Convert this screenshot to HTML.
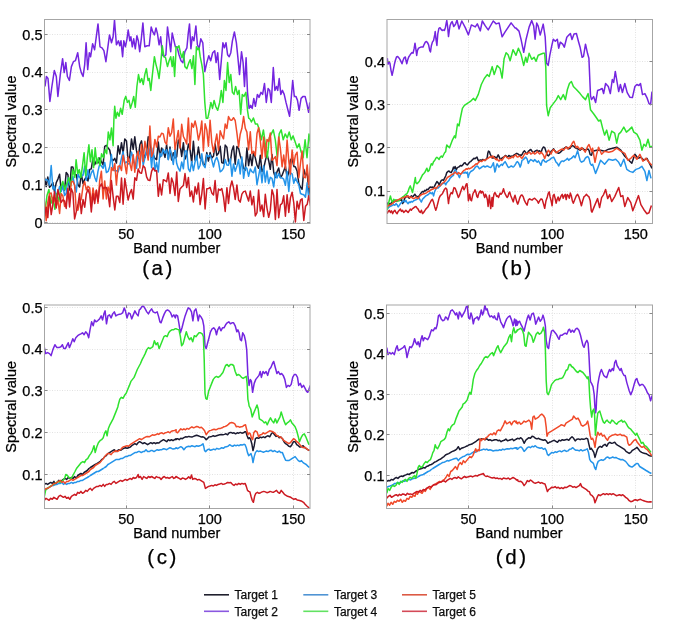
<!DOCTYPE html><html><head><meta charset="utf-8"><style>html,body{margin:0;padding:0;background:#fff;}svg{display:block;filter:blur(0.3px);}text{font-family:"Liberation Sans",sans-serif;stroke:#000;stroke-width:0.25px;}</style></head><body>
<svg width="685" height="633" viewBox="0 0 685 633">
<rect x="0" y="0" width="685" height="633" fill="#fff"/>
<defs><clipPath id="clipa"><rect x="44.5" y="19.5" width="265.5" height="204.0"/></clipPath></defs>
<path d="M126.5 19.5V223.5M209.5 19.5V223.5M293.5 19.5V223.5M44.5 222.5H310.0M44.5 185.5H310.0M44.5 147.5H310.0M44.5 109.5H310.0M44.5 72.5H310.0M44.5 34.5H310.0" stroke="#e2e2e2" stroke-width="1" stroke-dasharray="1 1.5" fill="none"/>
<g clip-path="url(#clipa)" fill="none" stroke-width="1.5" stroke-linejoin="round">
<path d="M44.5,177.6 46.2,186.6 47.8,177.0 49.5,187.2 51.2,185.4 52.9,182.6 54.5,191.5 56.2,182.8 57.9,179.1 59.6,174.3 61.2,190.8 62.9,185.3 64.6,190.1 66.2,172.4 67.9,174.8 69.6,190.1 71.3,167.1 72.9,167.1 74.6,174.3 76.3,174.8 78.0,184.7 79.6,187.0 81.3,173.5 83.0,183.7 84.7,179.4 86.3,177.0 88.0,181.0 89.7,169.4 91.3,168.9 93.0,158.0 94.7,164.7 96.4,160.7 98.0,162.9 99.7,157.9 101.4,161.7 103.1,164.9 104.7,146.4 106.4,145.3 108.1,147.9 109.7,150.0 111.4,158.9 113.1,160.4 114.8,158.4 116.4,163.1 118.1,145.7 119.8,154.0 121.5,142.7 123.1,153.2 124.8,138.9 126.5,141.0 128.1,161.2 129.8,156.0 131.5,138.9 133.2,149.3 134.8,136.8 136.5,150.7 138.2,158.3 139.9,144.7 141.5,140.9 143.2,153.0 144.9,157.6 146.6,151.9 148.2,136.8 149.9,142.0 151.6,157.6 153.2,154.7 154.9,158.4 156.6,159.6 158.3,142.0 159.9,157.1 161.6,148.1 163.3,151.0 165.0,157.4 166.6,144.5 168.3,159.2 170.0,147.0 171.6,159.9 173.3,152.8 175.0,158.0 176.7,156.8 178.3,140.1 180.0,144.3 181.7,156.5 183.4,142.7 185.0,159.1 186.7,154.9 188.4,144.0 190.0,149.3 191.7,162.6 193.4,141.3 195.1,160.2 196.7,159.3 198.4,147.1 200.1,158.0 201.8,159.0 203.4,164.5 205.1,164.3 206.8,152.6 208.4,161.0 210.1,152.6 211.8,158.1 213.5,156.1 215.1,143.9 216.8,155.4 218.5,153.2 220.2,146.2 221.8,162.6 223.5,163.3 225.2,145.1 226.9,147.3 228.5,161.4 230.2,163.2 231.9,150.4 233.5,145.9 235.2,164.2 236.9,146.4 238.6,148.4 240.2,155.5 241.9,160.3 243.6,168.3 245.3,170.1 246.9,148.0 248.6,165.6 250.3,154.6 251.9,165.6 253.6,152.1 255.3,157.8 257.0,165.2 258.6,168.3 260.3,155.3 262.0,171.6 263.7,168.3 265.3,160.9 267.0,154.4 268.7,160.7 270.3,169.3 272.0,154.5 273.7,172.3 275.4,177.4 277.0,171.9 278.7,168.0 280.4,177.6 282.1,175.2 283.7,171.0 285.4,166.4 287.1,177.4 288.8,172.3 290.4,159.9 292.1,158.1 293.8,166.3 295.4,167.0 297.1,171.0 298.8,183.3 300.5,187.3 302.1,189.2 303.8,169.2 305.5,175.8 307.2,171.0 308.8,195.2 310.5,181.8" stroke="#1a1a30"/>
<path d="M45.0,86.5 46.4,76.5 48.0,78.5 49.9,101.4 51.9,86.5 54.3,70.6 56.3,76.5 57.9,96.4 60.3,74.6 62.6,58.7 64.2,72.6 65.8,62.6 67.4,76.5 69.4,80.5 71.4,66.6 73.4,61.7 75.4,60.7 77.7,52.7 79.7,66.6 81.3,72.6 83.1,76.5 84.7,64.6 86.1,42.8 87.7,69.6 89.3,52.7 90.6,56.7 92.6,43.8 94.6,49.7 96.0,38.8 98.0,23.9 100.0,46.8 102.0,47.8 103.9,50.7 105.9,61.7 107.9,46.8 109.5,34.9 111.5,42.8 113.1,36.8 114.5,20.0 116.4,44.8 118.4,40.8 119.8,45.8 121.0,40.8 122.6,56.7 123.8,40.8 125.4,46.8 127.0,38.8 128.2,29.9 129.8,40.8 130.9,36.8 132.3,46.8 133.7,38.8 135.3,48.8 136.9,35.8 138.3,40.8 139.7,51.7 141.3,38.8 142.9,22.9 144.8,46.8 147.2,45.8 149.2,45.8 151.2,26.9 152.8,31.9 154.4,34.9 156.0,27.9 157.5,33.9 159.1,44.8 160.7,36.8 162.3,54.7 164.1,56.7 165.9,54.7 167.5,26.9 169.1,38.8 170.7,51.7 172.2,32.9 174.0,40.8 175.4,46.8 177.0,46.8 179.0,54.7 181.0,60.7 182.9,62.6 184.9,51.7 186.9,47.8 188.3,32.9 189.5,23.9 190.9,48.8 192.3,36.8 193.9,40.8 195.9,25.9 197.4,44.8 199.0,48.8 200.8,38.8 202.8,42.8 204.8,71.6 206.8,62.6 208.8,55.7 210.7,60.7 212.7,52.7 214.7,50.7 216.1,62.6 217.7,52.7 219.7,79.5 221.3,60.7 222.9,42.8 224.4,47.8 226.0,42.8 227.6,54.7 229.2,56.7 230.8,52.7 232.4,40.8 234.4,31.9 236.4,42.8 237.9,57.7 239.5,74.6 241.5,51.7 243.1,62.6 244.5,86.5 246.1,57.7 247.5,92.4 249.1,108.3 250.7,105.3 252.2,108.3 253.8,98.4 255.4,106.3 257.4,94.4 259.0,97.4 261.0,92.4 262.6,94.4 264.5,83.5 266.3,102.4 268.1,88.5 269.7,90.4 271.3,102.4 273.3,67.6 274.9,90.4 276.5,86.5 277.7,90.4 279.2,78.5 280.8,94.4 282.4,90.4 284.2,94.4 286.0,102.4 288.0,110.3 289.6,116.3 291.2,98.4 292.7,80.5 294.3,96.4 295.9,96.4 297.5,100.4 299.1,110.3 301.1,98.4 303.1,96.4 305.1,96.4 307.0,104.3 308.6,112.3 309.8,102.4" stroke="#7425e0"/>
<path d="M44.5,180.5 46.2,179.3 47.8,180.1 49.5,185.1 51.2,165.5 52.9,188.9 54.5,186.3 56.2,195.3 57.9,193.2 59.6,186.5 61.2,191.5 62.9,185.5 64.6,195.5 66.2,193.6 67.9,178.2 69.6,184.8 71.3,182.2 72.9,176.5 74.6,185.1 76.3,192.0 78.0,173.8 79.6,177.7 81.3,175.3 83.0,175.4 84.7,166.2 86.3,180.2 88.0,169.8 89.7,178.5 91.3,172.8 93.0,170.0 94.7,177.2 96.4,181.6 98.0,171.1 99.7,164.1 101.4,166.0 103.1,168.3 104.7,162.5 106.4,172.5 108.1,171.4 109.7,166.8 111.4,154.5 113.1,169.1 114.8,170.7 116.4,170.7 118.1,171.8 119.8,165.7 121.5,158.1 123.1,151.8 124.8,163.2 126.5,161.9 128.1,163.9 129.8,163.5 131.5,152.1 133.2,157.6 134.8,164.6 136.5,168.2 138.2,151.9 139.9,153.8 141.5,150.8 143.2,165.1 144.9,157.9 146.6,149.0 148.2,157.1 149.9,148.8 151.6,167.7 153.2,148.4 154.9,170.8 156.6,162.3 158.3,171.9 159.9,153.2 161.6,156.1 163.3,149.2 165.0,153.3 166.6,149.8 168.3,159.7 170.0,148.9 171.6,154.6 173.3,164.4 175.0,149.2 176.7,163.6 178.3,168.2 180.0,171.2 181.7,162.0 183.4,168.7 185.0,151.1 186.7,150.9 188.4,168.8 190.0,171.7 191.7,161.6 193.4,170.5 195.1,161.7 196.7,155.4 198.4,169.0 200.1,165.2 201.8,153.8 203.4,165.0 205.1,167.6 206.8,154.6 208.4,156.7 210.1,154.9 211.8,160.1 213.5,166.9 215.1,160.3 216.8,157.2 218.5,162.0 220.2,171.8 221.8,170.7 223.5,168.1 225.2,159.6 226.9,164.9 228.5,165.3 230.2,158.8 231.9,176.3 233.5,163.9 235.2,171.3 236.9,166.0 238.6,159.5 240.2,173.9 241.9,157.1 243.6,178.3 245.3,167.2 246.9,168.3 248.6,176.3 250.3,169.0 251.9,171.7 253.6,172.8 255.3,166.9 257.0,184.7 258.6,176.2 260.3,166.9 262.0,182.8 263.7,165.7 265.3,182.1 267.0,171.0 268.7,183.6 270.3,177.3 272.0,178.3 273.7,186.9 275.4,172.4 277.0,178.1 278.7,173.6 280.4,177.8 282.1,177.9 283.7,179.2 285.4,185.3 287.1,171.4 288.8,191.5 290.4,173.0 292.1,173.9 293.8,183.3 295.4,177.9 297.1,181.7 298.8,184.7 300.5,193.5 302.1,194.2 303.8,194.8 305.5,197.2 307.2,182.7 308.8,198.9 310.5,199.1" stroke="#2494ea"/>
<path d="M45.0,211.3 47.0,195.4 48.9,189.5 50.9,203.4 52.9,197.4 54.9,209.3 56.9,193.4 58.9,201.4 60.9,187.5 62.8,181.5 64.8,189.5 66.8,183.5 68.8,177.6 70.8,185.5 72.8,169.6 74.8,177.6 76.1,159.7 77.7,173.6 79.3,169.6 80.9,177.6 82.5,165.6 84.1,152.7 85.7,175.6 87.3,157.7 88.9,144.8 90.4,161.7 92.0,149.8 93.6,167.6 95.2,147.8 96.8,163.7 98.4,157.7 100.0,165.6 101.6,153.7 103.5,157.7 105.1,149.8 106.7,153.7 108.3,131.9 109.9,139.8 111.5,127.9 113.1,145.8 113.9,119.2 114.7,106.3 115.9,118.2 117.4,112.3 119.0,116.3 120.6,108.3 122.2,114.3 124.2,100.4 125.8,96.4 127.4,102.4 129.0,100.4 130.5,108.3 132.3,102.4 133.7,96.4 135.3,107.3 136.9,86.5 138.5,74.6 140.1,82.5 141.7,78.5 143.3,84.5 144.8,74.6 146.4,68.6 148.0,80.5 149.2,78.5 150.8,90.4 152.4,74.6 154.4,56.7 156.0,64.6 157.6,70.6 159.1,78.5 160.7,63.6 162.3,45.8 163.9,56.7 165.5,57.7 167.5,66.6 169.1,60.7 170.7,56.7 172.2,66.6 173.4,56.7 174.6,76.5 175.8,54.7 176.0,46.8 177.6,47.8 179.0,45.8 180.4,52.7 182.0,57.7 183.5,51.7 184.9,66.6 186.9,68.6 188.9,62.6 190.3,59.7 191.9,68.6 193.5,55.7 194.9,84.5 196.4,46.8 197.8,49.7 199.0,47.8 200.2,56.7 201.8,64.6 203.4,74.6 204.8,102.4 206.2,118.2 207.8,118.2 209.4,110.3 210.9,102.4 212.5,108.3 214.1,100.4 215.7,106.3 217.7,110.3 219.7,102.4 221.3,90.4 222.9,102.4 224.4,80.5 226.0,90.4 227.6,62.6 229.2,82.5 230.8,74.6 232.4,92.4 234.0,94.4 235.6,86.5 237.5,94.4 239.1,90.4 240.7,114.3 242.3,94.4 243.9,96.4 245.9,92.4 247.5,110.3 248.7,118.2 249.9,119.0 251.4,122.0 253.4,118.0 255.4,124.0 257.4,124.0 259.4,129.9 261.4,139.8 263.4,129.9 265.3,143.8 267.3,157.7 269.3,137.9 271.3,133.9 273.3,129.9 275.3,139.8 277.3,157.7 279.2,133.9 281.2,129.9 283.2,139.8 285.2,133.9 287.2,137.9 289.2,131.9 291.2,139.8 293.1,135.9 295.1,141.8 297.1,147.8 299.1,143.8 301.1,151.8 303.1,157.7 305.1,139.8 307.0,157.7 309.0,133.9 311.0,145.8" stroke="#2fe22f"/>
<path d="M44.5,201.6 46.2,220.7 47.8,202.1 49.5,193.6 51.2,193.0 52.9,203.0 54.5,198.3 56.2,206.3 57.9,200.1 59.6,213.5 61.2,193.6 62.9,196.0 64.6,206.5 66.2,202.8 67.9,190.3 69.6,199.8 71.3,182.0 72.9,181.2 74.6,185.3 76.3,210.3 78.0,210.1 79.6,202.1 81.3,198.9 83.0,186.5 84.7,181.6 86.3,189.8 88.0,186.4 89.7,187.9 91.3,205.4 93.0,188.0 94.7,197.9 96.4,190.2 98.0,203.3 99.7,180.6 101.4,171.2 103.1,199.0 104.7,180.9 106.4,199.0 108.1,187.1 109.7,192.9 111.4,167.6 113.1,170.6 114.8,163.4 116.4,184.9 118.1,166.4 119.8,165.6 121.5,170.5 123.1,155.2 124.8,163.6 126.5,173.7 128.1,157.1 129.8,163.2 131.5,170.4 133.2,154.8 134.8,172.2 136.5,156.7 138.2,151.2 139.9,168.1 141.5,144.3 143.2,161.4 144.9,141.3 146.6,150.6 148.2,160.0 149.9,126.0 151.6,156.6 153.2,152.3 154.9,139.4 156.6,147.1 158.3,136.3 159.9,137.0 161.6,133.2 163.3,133.9 165.0,142.0 166.6,144.4 168.3,127.7 170.0,136.3 171.6,132.8 173.3,119.0 175.0,149.4 176.7,139.9 178.3,130.4 180.0,147.9 181.7,124.3 183.4,136.5 185.0,139.6 186.7,143.9 188.4,117.9 190.0,149.3 191.7,123.2 193.4,127.3 195.1,121.0 196.7,127.8 198.4,140.0 200.1,133.3 201.8,120.9 203.4,151.0 205.1,123.7 206.8,129.9 208.4,146.2 210.1,120.3 211.8,142.6 213.5,152.2 215.1,142.9 216.8,134.1 218.5,150.3 220.2,130.8 221.8,135.4 223.5,138.8 225.2,124.1 226.9,128.4 228.5,116.6 230.2,119.9 231.9,120.2 233.5,117.7 235.2,120.5 236.9,132.8 238.6,147.0 240.2,134.2 241.9,128.3 243.6,116.5 245.3,128.3 246.9,132.1 248.6,149.8 250.3,131.8 251.9,153.7 253.6,151.3 255.3,155.8 257.0,133.5 258.6,127.6 260.3,140.5 262.0,158.4 263.7,137.1 265.3,157.0 267.0,139.6 268.7,141.5 270.3,133.1 272.0,160.3 273.7,158.8 275.4,156.6 277.0,165.6 278.7,136.9 280.4,148.6 282.1,166.8 283.7,155.0 285.4,168.6 287.1,140.0 288.8,161.3 290.4,174.1 292.1,149.9 293.8,164.5 295.4,155.2 297.1,152.2 298.8,177.7 300.5,163.2 302.1,151.0 303.8,177.0 305.5,177.8 307.2,164.9 308.8,187.3 310.5,163.0" stroke="#f04a2a"/>
<path d="M44.5,215.8 46.2,207.2 47.8,217.6 49.5,196.3 51.2,214.6 52.9,204.0 54.5,191.7 56.2,208.0 57.9,189.6 59.6,196.6 61.2,202.4 62.9,199.9 64.6,201.2 66.2,208.4 67.9,188.2 69.6,207.0 71.3,188.7 72.9,192.8 74.6,218.9 76.3,211.6 78.0,204.5 79.6,193.6 81.3,213.6 83.0,199.5 84.7,207.2 86.3,193.8 88.0,189.2 89.7,194.2 91.3,212.0 93.0,193.8 94.7,203.5 96.4,190.3 98.0,201.3 99.7,187.0 101.4,183.9 103.1,188.4 104.7,187.8 106.4,187.5 108.1,194.1 109.7,206.7 111.4,180.5 113.1,196.4 114.8,210.0 116.4,196.2 118.1,196.3 119.8,202.5 121.5,177.9 123.1,204.2 124.8,178.6 126.5,189.2 128.1,200.0 129.8,193.4 131.5,189.5 133.2,199.1 134.8,177.7 136.5,180.3 138.2,168.9 139.9,172.8 141.5,173.3 143.2,165.6 144.9,167.7 146.6,176.8 148.2,180.1 149.9,180.6 151.6,171.4 153.2,167.9 154.9,170.9 156.6,170.6 158.3,196.3 159.9,183.9 161.6,195.0 163.3,179.8 165.0,180.5 166.6,181.7 168.3,172.9 170.0,193.5 171.6,178.1 173.3,183.1 175.0,195.5 176.7,171.9 178.3,201.5 180.0,188.9 181.7,187.0 183.4,185.5 185.0,173.6 186.7,187.6 188.4,177.4 190.0,196.5 191.7,191.0 193.4,202.0 195.1,186.7 196.7,194.0 198.4,182.9 200.1,204.6 201.8,193.8 203.4,178.5 205.1,208.9 206.8,188.7 208.4,188.6 210.1,187.4 211.8,192.9 213.5,194.9 215.1,180.6 216.8,202.2 218.5,189.0 220.2,190.3 221.8,188.6 223.5,196.8 225.2,211.5 226.9,187.7 228.5,203.4 230.2,187.5 231.9,181.0 233.5,187.7 235.2,199.5 236.9,185.1 238.6,200.0 240.2,202.1 241.9,194.2 243.6,191.6 245.3,191.1 246.9,195.9 248.6,201.0 250.3,191.0 251.9,204.8 253.6,196.5 255.3,216.0 257.0,212.6 258.6,189.9 260.3,211.1 262.0,205.0 263.7,216.6 265.3,194.3 267.0,208.3 268.7,217.3 270.3,210.4 272.0,189.8 273.7,195.5 275.4,219.5 277.0,189.6 278.7,217.7 280.4,204.8 282.1,203.4 283.7,195.8 285.4,216.3 287.1,194.8 288.8,212.4 290.4,197.9 292.1,192.2 293.8,203.0 295.4,222.0 297.1,201.3 298.8,209.0 300.5,200.1 302.1,198.7 303.8,220.5 305.5,206.3 307.2,204.3 308.8,195.7 310.5,206.0" stroke="#cc1a22"/>
</g>
<rect x="44.5" y="19.5" width="265.5" height="204.0" fill="none" stroke="#a6a6a6" stroke-width="1"/>
<path d="M126.5 223.5v-3M126.5 19.5v3M209.5 223.5v-3M209.5 19.5v3M293.5 223.5v-3M293.5 19.5v3M44.5 222.5h3M310.0 222.5h-3M44.5 185.5h3M310.0 185.5h-3M44.5 147.5h3M310.0 147.5h-3M44.5 109.5h3M310.0 109.5h-3M44.5 72.5h3M310.0 72.5h-3M44.5 34.5h3M310.0 34.5h-3" stroke="#8a8a8a" stroke-width="1" fill="none"/>
<text x="126.3" y="238.8" font-size="14.5" text-anchor="middle" fill="#000">50</text>
<text x="209.8" y="238.8" font-size="14.5" text-anchor="middle" fill="#000">100</text>
<text x="293.3" y="238.8" font-size="14.5" text-anchor="middle" fill="#000">150</text>
<text x="42.5" y="228.0" font-size="14.5" text-anchor="end" fill="#000">0</text>
<text x="42.5" y="190.3" font-size="14.5" text-anchor="end" fill="#000">0.1</text>
<text x="42.5" y="152.7" font-size="14.5" text-anchor="end" fill="#000">0.2</text>
<text x="42.5" y="115.0" font-size="14.5" text-anchor="end" fill="#000">0.3</text>
<text x="42.5" y="77.3" font-size="14.5" text-anchor="end" fill="#000">0.4</text>
<text x="42.5" y="39.7" font-size="14.5" text-anchor="end" fill="#000">0.5</text>
<text x="176.8" y="252.9" font-size="14.5" text-anchor="middle" fill="#000">Band number</text>
<text transform="translate(16.0 121.5) rotate(-90)" font-size="14.5" text-anchor="middle" fill="#000">Spectral value</text>
<text x="158.6" y="275.3" font-size="20.5" text-anchor="middle" fill="#000" letter-spacing="2.6">(a)</text>
<defs><clipPath id="clipb"><rect x="387.0" y="19.5" width="265.5" height="204.0"/></clipPath></defs>
<path d="M468.5 19.5V223.5M552.5 19.5V223.5M635.5 19.5V223.5M387.0 191.5H652.5M387.0 147.5H652.5M387.0 104.5H652.5M387.0 61.5H652.5" stroke="#e2e2e2" stroke-width="1" stroke-dasharray="1 1.5" fill="none"/>
<g clip-path="url(#clipb)" fill="none" stroke-width="1.5" stroke-linejoin="round">
<path d="M387.1,202.5 388.2,205.3 389.3,203.6 390.4,204.7 391.5,202.5 392.6,201.4 393.7,202.0 394.8,200.8 396.0,201.4 397.1,200.3 398.2,200.8 399.3,199.7 400.4,200.3 401.5,199.2 402.6,203.6 403.7,201.4 404.8,198.1 405.9,197.0 407.0,195.9 408.1,197.0 409.2,198.1 410.3,197.0 411.4,195.9 412.5,197.0 413.6,195.9 414.8,194.2 415.9,195.9 417.0,196.4 418.1,197.0 419.2,195.9 420.3,194.2 421.4,192.6 422.5,191.4 423.6,192.0 424.7,190.3 425.8,190.9 426.9,189.2 428.0,189.8 429.1,188.1 430.2,187.0 431.3,187.6 432.4,187.0 433.6,188.1 434.7,185.9 435.8,183.7 436.9,181.5 438.0,182.6 439.1,184.8 440.2,182.6 441.3,180.4 442.4,179.8 443.5,180.4 444.6,178.2 445.7,176.0 446.8,172.6 447.9,171.5 449.0,171.0 450.1,172.1 451.2,172.6 452.4,170.4 453.5,167.1 454.0,168.8 455.1,166.5 456.2,169.9 457.3,167.6 458.4,167.1 459.5,166.5 460.6,165.4 461.7,166.0 462.8,164.9 464.0,163.2 465.1,162.7 466.2,164.3 467.3,164.9 468.4,163.8 469.5,162.1 470.6,161.6 471.7,160.5 472.8,159.4 473.9,158.2 475.0,158.8 476.1,157.7 477.0,157.1 477.8,159.4 478.5,161.0 479.4,160.5 480.5,159.9 481.6,160.5 482.8,159.4 483.9,159.9 485.0,160.5 486.1,159.4 487.2,157.7 487.8,153.3 488.5,151.1 489.4,151.6 490.3,154.4 491.2,156.0 492.0,157.7 492.9,158.2 493.8,157.1 494.7,156.6 495.6,157.7 496.5,158.2 497.3,156.6 498.2,154.9 499.1,156.6 500.0,158.8 500.9,159.4 501.8,158.2 502.7,157.7 503.5,157.1 504.4,156.6 505.3,155.5 506.2,156.0 507.1,157.1 508.0,156.6 508.8,155.5 509.7,156.0 510.6,156.6 511.5,156.0 512.4,156.6 513.3,155.5 514.2,154.9 515.0,154.4 515.9,153.8 516.8,153.3 517.7,153.8 518.6,154.4 519.5,155.5 520.4,154.9 521.2,155.5 522.0,154.6 523.3,152.1 524.5,150.8 525.8,152.7 527.1,154.0 528.3,151.4 529.6,150.2 530.8,149.5 532.1,151.4 533.4,152.7 534.6,151.4 535.9,150.8 537.2,150.2 538.4,151.4 539.7,150.8 541.0,152.7 542.2,148.9 543.5,147.0 544.7,147.6 546.0,151.4 547.3,155.2 548.5,155.9 549.8,154.0 551.1,151.4 552.3,150.2 553.6,148.9 554.9,150.8 556.1,152.1 557.4,152.7 558.7,153.3 559.9,152.7 561.2,151.4 562.4,150.2 563.7,148.9 565.0,147.6 566.2,147.0 567.5,147.6 568.8,148.9 570.0,148.3 571.3,146.4 572.6,145.7 573.8,146.4 575.1,147.6 576.3,148.3 577.6,148.9 578.9,149.5 580.1,150.2 581.4,148.9 582.7,148.3 583.9,149.5 585.2,150.2 586.5,149.5 587.7,148.9 589.0,150.2 590.2,154.6 591.5,155.2 592.6,151.2 596.6,150.2 600.6,150.2 604.6,151.2 608.7,149.2 612.7,148.2 616.7,147.2 620.8,150.2 624.8,156.3 628.8,160.3 631.8,163.3 634.9,154.3 637.9,158.3 640.9,157.3 643.9,160.3 646.9,158.3 650.0,164.3 652.0,168.4" stroke="#1a1a30"/>
<path d="M387.3,58.1 388.0,64.2 388.8,62.0 389.9,63.1 391.0,70.3 392.1,75.3 393.2,70.3 394.3,64.8 395.4,60.3 396.5,57.0 397.6,56.5 398.7,57.6 399.8,59.2 400.9,61.4 402.0,63.7 403.1,60.3 404.2,57.6 405.4,57.0 405.9,60.3 406.8,63.7 407.6,60.3 408.7,57.0 409.8,55.4 410.9,53.7 412.0,52.6 413.1,53.2 414.2,48.2 415.0,43.2 415.9,49.3 416.7,55.4 417.5,50.4 418.6,48.2 419.7,47.6 420.8,47.1 421.9,47.1 423.0,47.1 424.2,44.3 425.3,42.1 426.4,41.5 427.5,42.6 428.6,44.9 429.7,50.4 430.5,52.0 431.3,46.0 432.4,42.1 433.6,40.4 434.7,34.9 435.2,31.6 436.0,39.3 436.9,45.4 437.8,33.8 438.9,28.3 440.0,27.7 441.1,29.4 442.2,30.5 443.3,29.9 444.4,30.5 445.5,27.2 446.3,22.7 446.8,20.5 447.7,27.2 448.5,36.6 449.3,30.5 450.1,25.5 451.2,22.7 452.1,21.6 452.9,23.8 453.7,26.6 454.6,25.5 455.7,23.8 457.0,20.0 459.0,28.9 461.8,21.0 465.4,27.9 468.4,34.9 471.4,24.9 475.3,26.9 477.3,23.9 480.3,30.9 482.3,21.0 485.3,25.9 488.2,29.9 493.2,21.0 496.2,23.9 499.1,22.9 502.1,36.8 505.1,31.9 511.1,22.9 515.0,27.9 516.0,28.1 519.0,31.1 521.0,39.2 523.7,52.3 526.1,39.2 529.1,27.1 531.7,20.6 533.7,26.1 535.1,39.2 536.7,23.1 538.2,26.1 540.2,35.1 543.2,24.1 545.2,37.2 546.6,63.3 548.2,65.4 549.8,55.3 551.9,45.2 553.3,39.2 555.3,41.2 557.3,39.2 558.7,48.2 560.3,42.2 562.7,44.2 564.3,47.2 566.8,37.2 568.8,35.1 570.4,33.5 572.0,39.6 574.0,34.1 576.4,33.5 578.4,41.2 580.1,47.2 582.1,57.3 583.5,56.3 585.5,44.2 587.5,53.3 588.9,58.3 590.5,95.6 591.5,99.6 593.6,96.6 595.6,102.6 597.6,90.5 600.2,89.5 602.2,88.5 603.6,93.6 605.6,83.5 608.3,86.5 610.3,93.6 612.3,79.5 613.7,82.5 615.3,71.4 617.3,83.5 618.7,91.6 620.4,84.5 622.4,92.6 624.8,83.5 627.2,92.6 629.8,97.2 632.4,97.6 634.9,86.5 636.9,84.5 638.9,85.5 640.5,83.5 642.5,94.6 644.9,93.6 646.9,97.6 649.0,103.6 650.6,104.6 652.0,91.6" stroke="#7425e0"/>
<path d="M387.1,209.1 388.2,208.0 389.3,206.9 390.4,206.4 391.5,205.8 392.6,205.3 393.7,204.7 394.8,205.3 396.0,203.6 397.1,204.7 398.2,206.9 399.3,205.3 400.4,203.6 401.5,202.5 402.6,201.4 403.7,200.8 404.8,202.0 405.9,200.3 407.0,202.5 408.1,203.6 409.2,202.0 410.3,202.5 411.4,201.4 412.5,202.0 413.6,200.8 414.8,200.3 415.9,199.7 417.0,199.2 418.1,198.6 419.2,198.1 420.3,200.3 421.4,202.0 422.5,199.2 423.6,198.1 424.7,197.0 425.8,195.9 426.9,195.3 428.0,194.8 429.1,193.7 430.2,192.6 431.3,193.7 432.4,192.6 433.6,195.9 434.7,191.4 435.8,189.2 436.9,187.6 438.0,188.1 439.1,187.0 440.2,185.9 441.3,184.8 442.4,183.7 443.5,183.2 444.6,182.6 445.7,184.8 446.8,182.6 447.9,181.5 449.0,180.4 450.1,178.2 451.2,177.1 452.4,176.0 453.5,175.4 454.0,172.1 455.1,169.9 456.2,171.0 457.3,173.2 458.4,175.4 459.5,177.6 460.6,174.3 461.7,173.2 462.8,172.6 464.0,173.2 465.1,172.1 466.2,173.2 467.3,172.1 468.2,177.6 469.0,174.3 469.9,172.6 470.8,171.5 471.7,171.0 472.8,170.4 473.9,169.3 475.0,167.6 476.1,166.5 477.2,166.0 478.3,167.1 479.4,168.8 480.5,168.2 481.6,167.1 482.8,166.5 483.9,166.0 485.0,167.1 486.1,166.5 487.2,166.0 488.3,166.5 489.4,167.1 490.5,167.6 491.6,166.5 492.7,164.3 493.4,162.7 494.0,166.5 494.9,172.1 495.6,169.9 496.2,166.5 497.1,163.8 498.0,165.4 498.9,167.1 499.8,166.0 500.7,164.9 501.6,164.3 502.4,165.4 503.3,163.8 504.2,162.7 505.1,161.6 506.0,163.2 506.9,164.9 507.7,166.5 508.6,167.6 509.5,167.1 510.4,166.5 511.3,166.0 512.2,166.5 513.1,167.1 513.9,166.5 514.8,165.4 515.7,163.8 516.6,162.1 517.5,161.6 518.4,162.7 519.2,164.3 520.1,167.1 521.0,164.9 522.0,160.3 523.3,159.6 524.5,158.4 525.8,157.1 527.1,159.0 528.3,163.4 529.6,160.9 530.8,159.6 532.1,160.3 533.4,161.5 534.6,159.6 535.9,160.9 537.2,162.2 538.4,160.9 539.7,162.8 541.0,165.3 542.2,160.9 543.5,159.6 544.7,161.5 546.0,162.2 547.3,160.9 548.5,160.3 549.8,159.6 551.1,158.4 552.3,157.7 553.6,157.1 554.9,159.6 556.1,162.2 557.4,163.4 558.7,166.0 559.9,163.4 561.2,161.5 562.4,160.9 563.7,161.5 565.0,160.3 566.2,159.6 567.5,158.4 568.8,160.3 570.0,159.0 571.3,158.4 572.6,157.1 573.8,155.9 575.1,157.7 576.3,154.6 577.6,150.8 578.9,155.9 580.1,160.3 581.4,162.2 582.7,161.5 583.9,160.9 585.2,158.4 586.5,157.1 587.7,156.5 589.0,158.4 590.2,163.4 591.5,165.3 592.6,164.3 595.6,173.4 597.6,168.4 600.6,160.3 604.6,164.3 608.7,159.3 612.7,160.3 615.7,159.3 618.7,162.3 620.8,166.3 623.8,159.3 626.8,169.4 629.8,171.4 632.8,172.4 635.9,169.4 638.9,168.4 641.9,166.3 644.9,171.4 646.9,180.5 649.0,170.4 651.0,178.4" stroke="#2494ea"/>
<path d="M387.1,210.2 388.2,204.7 389.3,200.3 390.4,195.9 391.5,200.3 392.6,202.5 393.7,199.2 394.8,200.3 396.0,199.7 397.1,201.4 398.2,200.3 399.3,200.8 400.4,199.2 401.5,198.1 402.6,197.0 403.7,196.4 404.8,195.3 405.9,194.2 407.0,193.7 408.1,191.4 409.2,188.1 410.3,185.9 411.4,189.2 412.5,192.6 413.6,187.0 414.8,180.4 415.3,177.6 415.9,182.6 417.0,183.7 418.1,182.6 419.2,181.5 420.3,179.3 421.4,177.1 422.5,174.9 423.6,173.8 424.7,172.6 425.8,170.4 426.9,168.2 428.0,171.5 429.1,170.4 430.2,167.1 431.3,163.8 432.4,164.9 433.6,161.6 434.7,160.5 435.8,158.3 436.9,157.2 438.0,158.3 439.1,159.4 440.2,157.2 441.3,156.1 442.4,157.2 443.5,155.0 444.6,152.7 445.7,151.6 446.3,147.2 446.8,145.0 447.5,145.8 449.5,147.8 452.5,139.8 454.5,135.9 455.5,137.9 457.5,124.0 459.0,125.9 460.4,118.0 462.4,108.3 464.4,105.3 467.4,103.3 470.4,101.4 473.3,98.4 475.3,100.4 478.3,94.4 481.3,84.5 484.3,78.5 487.2,74.6 489.2,76.5 492.2,66.6 494.2,74.6 497.2,65.6 500.1,68.6 502.1,78.1 504.1,58.7 506.1,52.7 508.1,54.7 510.1,60.7 513.0,49.7 516.0,55.3 518.4,48.2 521.0,54.3 523.7,65.4 525.7,57.3 527.1,62.3 529.1,53.3 531.7,59.3 534.1,57.3 536.1,61.3 538.2,55.3 540.6,54.3 543.2,53.3 544.6,53.3 545.8,67.4 546.6,105.7 548.2,115.7 550.2,107.7 553.3,103.6 556.3,99.6 558.3,95.6 560.7,99.6 563.3,94.6 565.4,99.6 567.4,89.5 569.4,83.5 571.4,81.5 573.4,86.5 576.4,89.5 580.1,93.6 582.5,96.6 585.5,99.6 588.1,93.6 588.9,97.6 590.5,109.7 593.6,113.7 596.6,118.0 598.6,121.0 600.6,120.0 602.6,128.1 604.6,135.1 606.7,130.1 609.1,140.2 611.7,131.1 614.7,133.1 616.7,143.2 618.7,134.1 620.8,132.1 623.8,127.1 626.4,132.1 628.8,130.1 631.8,127.1 633.8,132.1 636.9,134.1 639.9,140.2 641.9,150.2 643.9,144.2 645.9,146.2 648.0,139.2 650.0,147.2 652.0,146.2" stroke="#2fe22f"/>
<path d="M387.1,206.9 388.2,205.8 389.3,205.3 390.4,204.7 391.5,204.2 392.6,203.6 393.7,202.5 394.8,201.4 396.0,200.8 397.1,200.3 398.2,199.7 399.3,199.2 400.4,198.6 401.5,198.1 402.6,198.1 403.7,197.5 404.8,197.0 405.9,196.4 407.0,197.0 408.1,195.9 409.2,197.0 410.3,197.5 411.4,197.0 412.5,198.1 413.6,198.6 414.8,198.1 415.9,197.0 417.0,198.1 418.1,198.6 419.2,197.0 420.3,195.3 421.4,194.8 422.5,194.2 423.6,193.7 424.7,193.7 425.8,193.1 426.9,192.6 428.0,191.4 429.1,191.4 430.2,190.3 431.3,189.8 432.4,189.2 433.6,188.7 434.7,187.6 435.8,188.7 436.9,187.6 438.0,185.9 439.1,185.4 440.2,185.9 441.3,184.3 442.4,183.2 443.5,182.6 444.6,181.5 445.7,180.4 446.8,178.2 447.9,177.1 449.0,176.5 450.1,176.0 451.2,174.9 452.4,174.3 453.5,173.8 454.0,173.2 455.1,172.1 456.2,173.2 457.3,174.3 458.4,172.6 459.5,173.2 460.6,174.3 461.7,173.2 462.8,171.5 464.0,170.4 465.1,169.9 466.2,168.8 467.3,169.3 468.4,168.2 469.5,168.8 470.6,168.2 471.7,167.6 472.8,166.5 473.9,166.0 475.0,164.9 476.1,163.8 477.2,164.3 478.3,162.7 479.4,161.6 480.5,161.0 481.6,161.6 482.8,160.5 483.9,159.9 485.0,160.5 486.1,159.4 487.2,158.8 488.3,158.2 489.4,157.1 490.5,156.6 491.6,157.7 492.7,156.0 493.8,157.1 494.7,158.2 495.6,159.4 496.5,159.9 497.3,158.8 498.2,160.5 499.1,161.0 500.0,159.9 500.9,159.4 501.8,160.5 502.7,159.4 503.5,158.2 504.4,156.6 505.3,156.0 506.2,156.6 507.1,157.7 508.0,158.2 508.8,158.8 509.7,157.7 510.6,158.2 511.5,157.1 512.4,156.6 513.3,157.7 514.2,156.0 515.0,155.5 515.9,154.9 516.8,156.6 517.7,157.1 518.6,156.6 519.5,156.0 520.4,156.6 521.2,157.7 522.0,158.4 523.3,156.5 524.5,154.0 525.8,153.3 527.1,154.0 528.3,152.7 529.6,152.1 530.8,154.0 532.1,153.3 533.4,152.1 534.6,154.0 535.9,153.3 537.2,151.4 538.4,152.7 539.7,154.0 541.0,152.1 542.2,153.3 543.5,155.2 544.7,158.4 546.0,155.2 547.3,152.1 548.5,150.2 549.8,152.7 551.1,154.0 552.3,150.8 553.6,149.5 554.9,151.4 556.1,152.7 557.4,152.1 558.7,150.8 559.9,150.2 561.2,149.5 562.4,148.9 563.7,150.2 565.0,148.3 566.2,147.0 567.5,148.9 568.8,147.6 570.0,147.0 571.3,145.1 572.6,142.6 573.8,141.3 575.1,145.1 576.3,147.6 577.6,146.4 578.9,148.3 580.1,149.5 581.4,147.6 582.7,148.9 583.9,150.2 585.2,152.1 586.5,148.9 587.7,146.4 589.0,144.5 590.2,147.6 591.5,151.4 592.6,148.2 595.0,162.3 596.6,154.3 598.6,147.2 601.6,154.3 604.6,151.2 608.7,152.2 612.7,151.2 616.7,148.2 620.8,151.2 624.8,153.3 627.8,160.3 630.8,158.3 633.8,155.3 636.9,159.3 639.9,154.3 642.9,161.3 645.9,158.3 649.0,162.3 652.0,165.3" stroke="#f04a2a"/>
<path d="M387.1,213.6 388.2,211.4 389.3,210.2 390.4,212.5 391.5,210.8 392.6,213.6 393.7,211.4 394.8,210.2 396.0,212.5 397.1,213.6 398.2,211.4 399.3,210.2 400.4,209.1 401.5,211.4 402.6,210.2 403.7,212.5 404.8,211.4 405.9,210.2 407.0,211.4 408.1,212.5 409.2,210.8 410.3,209.1 411.4,210.2 412.5,208.6 413.6,208.0 414.8,206.9 415.9,206.4 417.0,208.0 418.1,209.1 419.2,211.4 420.3,212.5 421.4,210.2 422.5,213.6 423.6,212.5 424.7,210.8 425.8,209.1 426.9,208.0 428.0,206.9 429.1,204.7 430.2,202.5 431.3,200.3 432.4,199.2 433.6,202.5 434.7,206.9 435.8,210.2 436.9,206.9 438.0,202.5 439.1,198.1 440.2,195.9 441.3,194.8 442.4,193.7 443.5,191.4 444.6,189.2 445.7,188.1 446.8,189.2 447.9,198.1 448.5,203.6 449.0,199.2 450.1,194.8 451.2,192.6 452.4,193.7 453.5,189.2 454.0,187.6 455.1,188.1 456.2,190.9 457.3,194.2 458.4,197.5 459.5,195.3 460.6,192.0 461.7,188.7 462.8,186.4 464.0,189.8 465.1,187.6 466.2,184.2 467.0,183.7 467.7,190.9 468.4,200.8 469.0,197.5 469.7,194.2 470.6,199.7 471.5,200.8 472.4,196.4 473.2,193.1 474.1,192.0 475.0,189.8 475.9,192.0 476.8,196.4 477.7,197.5 478.5,194.2 479.4,192.0 480.3,190.9 481.2,193.1 482.1,191.4 483.0,192.0 483.9,195.3 484.7,197.5 485.6,194.2 486.5,196.4 487.4,199.7 488.1,206.4 488.7,201.9 489.4,195.3 490.1,201.9 490.7,208.6 491.4,204.1 492.0,197.5 492.7,206.4 493.4,197.5 494.0,194.2 494.9,192.5 495.8,194.2 496.7,196.4 497.6,195.8 498.5,197.5 499.3,195.3 500.2,193.1 501.1,194.2 502.0,193.1 502.9,190.9 503.5,188.7 504.4,192.0 505.3,194.2 506.2,195.8 507.1,197.5 508.0,196.4 508.8,193.1 509.7,192.0 510.6,195.3 511.5,197.5 512.4,199.7 513.3,201.9 514.2,197.5 515.0,195.3 515.9,198.6 516.8,201.9 517.7,204.1 518.6,201.9 519.5,198.6 520.4,196.4 521.2,195.3 522.0,195.0 523.3,196.9 524.5,200.7 525.8,203.2 527.1,205.1 528.3,200.1 529.6,198.8 530.8,199.5 532.1,200.1 533.4,198.8 534.6,198.2 535.9,199.5 537.2,200.7 538.4,203.2 539.7,200.7 541.0,198.8 542.2,199.5 543.5,203.9 544.7,208.3 546.0,200.7 547.3,196.9 548.3,193.1 549.2,191.9 550.1,196.9 551.1,200.7 552.1,205.8 553.1,195.7 554.1,194.4 555.1,198.2 556.1,203.2 557.1,199.5 558.1,196.9 559.2,200.7 560.2,198.2 561.2,195.7 562.2,194.4 563.2,198.2 564.2,195.7 565.2,194.4 566.2,199.5 567.2,194.4 568.3,195.7 569.3,198.2 570.3,193.1 571.3,195.7 572.3,200.7 573.3,203.2 574.3,200.7 575.3,198.2 576.3,195.7 577.6,194.4 578.9,196.9 580.1,200.7 581.4,205.8 582.7,200.7 583.9,196.9 585.2,195.7 586.5,194.4 587.7,195.7 589.0,196.9 590.2,200.7 591.3,210.8 592.0,212.1 594.6,205.6 597.6,198.6 599.6,207.6 601.6,197.6 603.6,194.6 605.6,189.5 607.7,198.6 609.7,194.6 611.7,201.6 614.7,196.6 618.7,187.5 620.8,196.6 622.8,195.6 624.8,206.6 627.8,197.6 630.8,202.6 632.8,210.7 635.9,202.6 638.5,195.6 640.9,204.6 643.9,209.7 646.9,213.7 649.0,212.7 651.4,205.6" stroke="#cc1a22"/>
</g>
<rect x="387.0" y="19.5" width="265.5" height="204.0" fill="none" stroke="#a6a6a6" stroke-width="1"/>
<path d="M468.5 223.5v-3M468.5 19.5v3M552.5 223.5v-3M552.5 19.5v3M635.5 223.5v-3M635.5 19.5v3M387.0 191.5h3M652.5 191.5h-3M387.0 147.5h3M652.5 147.5h-3M387.0 104.5h3M652.5 104.5h-3M387.0 61.5h3M652.5 61.5h-3" stroke="#8a8a8a" stroke-width="1" fill="none"/>
<text x="468.8" y="238.8" font-size="14.5" text-anchor="middle" fill="#000">50</text>
<text x="552.3" y="238.8" font-size="14.5" text-anchor="middle" fill="#000">100</text>
<text x="635.8" y="238.8" font-size="14.5" text-anchor="middle" fill="#000">150</text>
<text x="385.0" y="196.4" font-size="14.5" text-anchor="end" fill="#000">0.1</text>
<text x="385.0" y="153.1" font-size="14.5" text-anchor="end" fill="#000">0.2</text>
<text x="385.0" y="109.8" font-size="14.5" text-anchor="end" fill="#000">0.3</text>
<text x="385.0" y="66.5" font-size="14.5" text-anchor="end" fill="#000">0.4</text>
<text x="519.2" y="252.9" font-size="14.5" text-anchor="middle" fill="#000">Band number</text>
<text transform="translate(357.9 121.5) rotate(-90)" font-size="14.5" text-anchor="middle" fill="#000">Spectral value</text>
<text x="517.6" y="275.3" font-size="20.5" text-anchor="middle" fill="#000" letter-spacing="2.6">(b)</text>
<defs><clipPath id="clipc"><rect x="44.5" y="305.0" width="265.5" height="203.5"/></clipPath></defs>
<path d="M126.5 305.0V508.5M209.5 305.0V508.5M293.5 305.0V508.5M44.5 474.5H310.0M44.5 432.5H310.0M44.5 390.5H310.0M44.5 349.5H310.0M44.5 307.5H310.0" stroke="#e2e2e2" stroke-width="1" stroke-dasharray="1 1.5" fill="none"/>
<g clip-path="url(#clipc)" fill="none" stroke-width="1.5" stroke-linejoin="round">
<path d="M44.4,484.4 46.0,483.4 47.6,484.4 49.1,483.4 50.7,482.4 52.3,483.4 53.9,481.4 55.5,484.4 57.1,482.4 58.7,480.4 60.3,481.4 61.9,480.4 63.4,479.4 65.0,478.4 66.6,479.4 68.2,477.5 69.8,478.4 71.4,477.5 73.0,478.4 74.6,476.5 76.1,478.4 77.7,475.5 79.3,474.5 80.9,473.5 82.5,474.5 84.1,472.5 85.7,471.5 87.3,470.5 88.9,468.5 90.4,467.5 92.0,466.5 93.6,465.5 95.2,464.5 96.8,463.6 98.4,462.6 100.0,461.6 101.6,459.6 103.2,458.6 104.7,456.6 106.3,455.6 107.9,453.6 109.5,452.6 111.1,451.6 112.7,450.6 114.3,449.7 115.9,451.6 117.4,450.6 119.0,449.7 120.6,450.3 122.2,449.1 123.8,448.3 125.4,447.7 127.0,448.3 128.6,447.7 130.2,447.1 131.7,445.7 133.3,444.7 134.9,443.7 136.5,444.7 138.1,442.7 139.7,441.7 141.3,442.7 142.9,443.7 144.4,442.7 146.0,443.7 147.6,444.7 149.2,443.7 150.8,442.7 152.4,443.7 154.0,442.7 155.6,443.7 157.2,442.7 158.7,443.1 160.3,441.7 161.9,440.7 163.5,439.7 165.1,440.7 166.7,441.7 168.3,439.7 169.9,440.7 171.4,439.7 173.0,440.7 174.6,439.7 176.2,438.7 176.0,439.7 177.6,438.7 179.2,439.7 180.8,438.3 182.4,438.7 183.9,437.7 185.5,436.8 187.1,437.1 188.7,436.4 190.3,436.8 191.9,437.1 193.5,436.4 195.1,435.8 196.6,435.2 198.2,435.8 199.8,436.4 201.4,437.1 203.0,436.8 204.6,437.7 206.2,439.7 207.4,438.7 208.6,437.1 210.1,436.8 211.7,436.4 213.3,435.8 214.9,436.4 216.5,435.8 218.1,435.2 219.7,434.8 221.3,434.4 222.9,434.8 224.4,434.4 226.0,433.8 227.6,434.8 229.2,432.8 230.8,432.4 232.4,433.2 234.0,432.8 235.6,433.8 237.2,432.8 238.7,433.2 240.3,432.4 241.9,433.2 243.5,432.8 244.7,431.8 245.9,431.8 247.1,435.8 248.3,438.7 249.5,437.7 250.7,439.7 251.8,443.7 253.0,450.6 254.2,445.7 255.4,438.7 257.0,437.7 258.6,438.3 260.2,437.1 261.8,437.7 263.4,436.8 264.9,437.7 266.5,436.4 268.1,435.8 269.7,436.8 271.3,433.8 272.9,432.4 274.5,434.8 276.1,436.4 277.7,435.8 279.2,437.7 280.8,437.1 282.4,438.7 284.0,441.7 285.6,443.7 287.2,444.7 288.8,446.3 290.4,446.7 291.9,444.7 293.5,441.7 295.1,441.7 296.7,444.7 298.3,445.7 299.9,447.1 301.5,446.7 303.1,445.7 304.7,447.7 306.2,448.7 307.8,449.7 309.4,450.6" stroke="#1a1a30"/>
<path d="M44.4,347.6 45.6,353.6 47.6,352.6 49.5,353.6 51.1,355.6 52.9,349.6 54.9,344.7 56.9,347.6 58.9,347.6 60.9,346.7 62.4,344.7 63.8,348.6 65.4,348.6 66.8,345.7 68.2,342.7 69.4,347.6 71.0,343.7 72.8,338.7 74.2,341.7 75.8,337.7 77.7,335.7 79.3,334.7 80.9,333.8 82.5,332.8 84.1,334.7 85.7,331.8 87.3,333.8 88.7,337.7 90.0,329.8 91.6,321.8 93.2,325.8 94.6,319.9 96.0,321.8 97.6,320.8 99.6,318.9 101.2,315.9 102.6,319.9 103.9,313.9 105.1,310.9 106.5,323.8 107.9,315.9 109.5,314.9 111.1,317.9 112.7,313.9 114.3,311.9 115.9,315.9 117.4,314.9 119.4,314.3 121.0,313.9 122.6,312.9 124.2,307.9 125.4,310.9 127.0,317.9 128.6,312.9 130.2,313.9 131.7,318.9 133.3,314.9 134.9,310.9 136.5,313.9 138.1,315.9 139.3,309.9 140.5,308.9 141.7,306.9 142.9,306.0 144.0,306.9 145.2,308.9 146.8,311.9 148.4,313.9 150.0,310.9 151.6,308.9 153.2,311.9 155.2,312.9 157.2,311.9 158.7,316.9 159.9,321.8 161.1,322.8 162.7,317.9 164.3,313.9 165.9,310.9 167.5,309.9 169.1,310.9 170.7,312.9 172.2,316.9 173.8,314.9 175.4,317.9 176.0,314.9 177.6,315.9 179.0,323.8 180.4,332.8 182.0,327.8 183.5,321.8 185.1,315.9 186.9,310.9 188.3,307.9 189.9,308.9 191.5,311.9 192.9,320.8 194.3,310.9 195.9,308.9 197.0,313.9 198.2,320.8 199.4,314.9 201.0,316.9 202.6,319.9 203.8,325.8 205.0,345.7 206.2,348.6 207.4,343.7 209.0,337.7 210.5,331.8 212.1,328.8 213.7,327.8 215.3,329.8 216.5,334.7 217.7,329.8 219.3,326.8 220.9,330.8 222.5,327.8 224.0,327.8 225.6,324.8 227.2,322.8 228.8,321.8 230.4,323.8 232.0,322.8 233.6,322.8 235.2,325.8 236.8,331.8 237.9,329.8 239.1,332.8 240.3,339.7 241.5,340.7 242.7,332.8 244.3,335.7 245.5,340.7 246.7,349.6 247.9,375.4 249.1,385.4 250.3,379.4 251.4,381.4 252.6,392.3 254.2,383.4 255.8,379.4 257.4,377.4 259.0,375.4 260.2,371.5 261.4,377.4 263.0,371.5 264.5,373.5 266.1,371.5 267.7,375.4 269.3,369.5 270.9,367.5 272.5,363.5 273.7,361.5 275.3,367.5 276.9,373.5 278.4,371.5 280.0,374.5 281.6,373.5 283.2,375.4 284.8,379.4 286.4,387.4 288.0,385.4 289.6,386.4 291.2,384.4 292.7,377.4 294.3,374.5 295.9,374.5 297.5,377.4 298.7,385.4 300.3,383.4 301.9,387.4 303.5,385.4 305.1,388.4 306.6,391.3 307.8,392.3 309.0,389.3 310.2,385.4" stroke="#7425e0"/>
<path d="M44.4,490.4 46.0,489.4 47.6,488.4 49.1,487.4 50.7,486.4 52.3,485.4 53.9,485.4 55.5,484.4 57.1,484.4 58.7,483.4 60.3,483.4 61.9,482.4 63.4,484.4 65.0,483.4 66.6,484.4 68.2,483.4 69.8,483.4 71.4,482.4 73.0,483.4 74.6,482.4 76.1,482.4 77.7,481.4 79.3,481.4 80.9,480.4 82.5,480.4 84.1,479.4 85.7,478.4 87.3,477.5 88.9,476.5 90.4,475.5 92.0,474.5 93.6,473.5 95.2,472.5 96.8,471.5 98.4,471.5 100.0,470.5 101.6,469.5 103.2,468.5 104.7,467.5 106.3,466.5 107.9,464.5 109.5,463.6 111.1,462.6 112.7,461.6 114.3,460.6 115.9,459.6 117.4,459.6 119.0,459.6 120.6,458.6 122.2,458.6 123.8,457.6 125.4,456.6 127.0,456.6 128.6,455.6 130.2,455.6 131.7,454.6 133.3,453.6 134.9,452.6 136.5,452.6 138.1,451.6 139.7,451.6 141.3,452.6 142.9,451.6 144.4,451.6 146.0,449.7 147.6,451.6 149.2,451.6 150.8,450.6 152.4,450.6 154.0,451.6 155.6,450.6 157.2,449.7 158.7,450.3 160.3,449.7 161.9,449.7 163.5,448.7 165.1,449.1 166.7,449.7 168.3,448.7 169.9,447.7 171.4,448.3 173.0,449.1 174.6,448.7 176.2,448.3 176.0,447.7 177.6,448.7 179.2,447.7 180.8,446.7 182.4,447.7 183.9,449.7 185.5,447.7 187.1,446.7 188.7,446.3 190.3,446.7 191.9,445.7 193.5,446.3 195.1,446.7 196.6,445.7 198.2,446.3 199.8,445.7 201.4,445.1 203.0,443.7 203.8,446.7 204.6,450.6 205.8,451.6 207.4,449.7 209.0,449.1 210.5,450.3 212.1,449.7 213.7,449.1 215.3,449.7 216.9,448.3 218.5,449.1 220.1,448.7 221.7,447.7 223.3,448.3 224.8,447.1 226.4,446.7 228.0,446.3 229.6,444.7 231.2,445.7 232.8,446.3 234.4,445.1 236.0,445.7 237.5,445.1 239.1,445.7 240.7,444.7 242.3,445.1 243.9,444.3 245.1,444.7 246.3,447.7 247.5,452.6 248.7,455.6 249.9,454.6 251.0,453.6 252.2,457.6 253.0,462.6 254.2,456.6 255.4,452.6 257.0,450.6 258.6,451.6 260.2,451.0 261.8,451.6 263.4,452.2 264.9,451.6 266.5,451.0 268.1,451.6 269.7,450.6 271.3,450.3 272.9,451.6 274.5,450.6 276.1,451.6 277.7,452.2 279.2,451.0 280.8,452.6 282.4,452.6 284.0,456.6 285.6,460.2 287.2,460.6 288.8,460.6 290.4,459.6 291.9,458.6 293.5,457.6 295.1,456.6 296.7,458.6 298.3,460.6 299.9,461.6 301.5,460.6 303.1,462.6 304.7,463.6 306.2,464.5 307.8,466.1 309.4,467.5" stroke="#2494ea"/>
<path d="M44.4,496.3 45.6,490.4 47.2,488.4 48.8,487.4 50.3,486.4 51.9,485.4 53.5,484.4 55.1,483.4 56.7,482.4 58.3,481.4 59.9,482.4 61.5,481.4 63.0,480.4 64.6,478.4 65.8,474.5 67.4,475.5 69.0,477.5 70.6,478.4 71.8,477.5 73.4,474.5 75.0,471.5 76.5,468.5 78.1,466.5 79.7,464.5 81.3,462.6 82.9,461.6 84.5,462.6 86.1,459.6 87.7,458.6 89.3,455.6 90.8,453.6 92.4,450.6 94.0,445.7 95.2,452.6 96.8,446.7 98.4,442.7 100.0,440.7 101.6,439.7 103.2,437.7 104.7,432.8 105.9,430.8 107.1,435.8 108.3,428.8 109.9,424.8 111.5,421.9 113.1,418.9 114.7,414.9 116.3,410.9 117.8,407.0 118.4,404.2 119.8,399.3 121.4,397.3 123.0,398.3 124.6,395.3 126.2,393.3 127.8,389.3 129.4,385.4 130.9,381.4 132.5,379.4 134.1,377.4 135.7,373.5 137.3,369.5 138.9,366.5 140.5,363.5 142.1,359.6 143.7,356.6 145.2,353.6 146.8,349.6 148.4,347.6 150.0,348.6 151.6,347.6 152.8,346.7 154.4,340.7 156.0,344.7 157.6,342.7 159.1,348.6 160.7,344.7 162.3,340.7 163.9,336.7 165.5,335.7 167.1,336.7 168.7,332.8 170.3,330.8 171.8,329.8 173.4,329.8 175.0,328.8 176.0,328.8 177.6,329.4 179.0,329.8 180.4,336.7 181.6,345.7 183.1,343.7 184.7,337.7 186.3,331.8 187.9,336.7 189.5,339.7 191.1,337.7 192.7,341.7 194.3,335.7 195.9,336.7 197.4,334.7 199.0,332.8 200.6,332.8 202.2,333.8 203.4,336.7 204.2,359.6 205.0,393.3 205.8,398.3 207.0,399.3 208.6,391.3 210.1,387.4 211.7,383.4 213.3,379.4 214.9,377.4 216.5,376.4 218.1,377.4 219.7,376.4 221.3,374.5 222.9,372.5 224.4,368.5 225.6,365.5 227.2,364.5 228.8,366.5 230.4,364.5 232.0,364.5 233.6,365.5 235.2,371.5 236.8,375.4 238.3,374.5 239.9,375.4 241.5,377.4 243.1,378.4 244.7,377.4 246.3,376.4 247.1,383.4 247.9,399.3 248.7,403.2 249.1,406.0 250.7,409.0 252.2,416.9 253.8,412.9 255.4,409.0 257.0,405.0 258.2,409.0 259.4,418.9 261.0,419.9 262.6,420.9 264.2,422.9 265.7,421.9 267.3,424.8 268.9,420.9 270.5,417.9 272.1,420.9 273.7,422.9 275.3,418.9 276.9,422.9 278.4,419.9 280.0,416.9 281.2,411.9 282.4,415.9 284.0,420.9 285.6,424.8 287.2,422.9 288.8,421.9 290.4,419.9 291.9,422.9 293.5,424.8 295.1,426.8 296.7,430.8 298.3,436.8 299.5,441.7 301.1,437.7 302.7,434.8 304.3,433.8 305.8,436.8 307.4,440.7 309.0,444.7" stroke="#2fe22f"/>
<path d="M44.4,490.4 46.0,488.4 47.6,488.4 49.1,487.4 50.7,486.4 52.3,485.4 53.9,483.4 55.5,483.4 57.1,482.4 58.7,481.4 60.3,480.4 61.9,482.4 63.4,481.4 65.0,483.4 66.6,481.4 68.2,481.4 69.8,480.4 71.4,479.4 73.0,480.4 74.6,479.4 76.1,478.4 77.7,477.5 79.3,476.5 80.9,475.5 82.5,475.5 84.1,474.5 85.7,473.5 87.3,472.5 88.9,471.5 90.4,469.5 92.0,468.5 93.6,467.5 95.2,465.5 96.8,464.5 98.4,463.6 100.0,462.6 101.6,460.6 103.2,458.6 104.7,456.6 106.3,454.6 107.9,453.6 109.5,453.6 111.1,454.6 112.7,452.6 114.3,451.6 115.9,450.6 117.4,451.6 119.0,450.6 120.6,449.7 122.2,447.7 123.8,446.7 125.4,446.3 127.0,445.7 128.6,446.3 130.2,444.7 131.7,443.7 133.3,442.7 134.9,441.7 136.5,440.7 138.1,439.7 139.7,438.7 141.3,439.7 142.9,438.7 144.4,437.7 146.0,436.8 147.6,436.4 149.2,436.8 150.8,435.8 152.4,434.8 154.0,435.2 155.6,434.8 157.2,433.8 158.7,434.4 160.3,433.2 161.9,432.8 163.5,433.8 165.1,432.8 166.7,432.4 168.3,431.8 169.9,432.8 171.4,431.2 173.0,430.8 174.6,430.4 176.2,429.8 176.0,431.8 177.6,432.8 179.2,430.8 180.8,428.8 182.4,429.8 183.9,428.8 185.5,429.8 187.1,428.4 188.7,429.2 190.3,427.8 191.9,426.8 193.5,427.8 195.1,427.2 196.6,426.4 198.2,426.8 199.8,427.8 201.4,427.2 203.0,428.8 204.6,430.8 206.2,434.8 207.8,432.4 209.4,430.8 210.9,430.4 212.5,429.8 214.1,429.2 215.7,429.8 217.3,429.2 218.9,428.4 220.5,428.4 222.1,427.8 223.6,426.8 225.2,426.4 226.8,425.8 228.4,424.4 230.0,422.9 231.6,422.5 233.2,422.9 234.8,423.8 236.4,426.8 237.9,426.4 239.5,427.2 241.1,426.8 242.7,426.4 244.3,425.2 245.5,424.8 246.7,429.8 247.9,434.8 249.1,432.8 250.3,433.8 251.4,437.7 252.6,439.7 253.8,432.8 255.4,430.8 257.0,431.8 258.6,436.8 260.2,434.8 261.8,434.4 263.4,432.8 264.9,433.8 266.5,432.8 268.1,431.8 269.7,430.8 271.3,431.2 272.9,431.8 274.5,432.8 276.1,434.8 277.7,435.8 279.2,436.8 280.8,437.1 282.4,438.7 284.0,440.7 285.6,441.7 287.2,442.7 288.8,443.7 290.4,442.7 291.9,440.7 293.5,438.7 295.1,439.7 296.7,441.7 298.3,442.7 299.9,444.7 301.5,446.7 303.1,447.7 304.7,447.1 306.2,448.3 307.8,449.7 309.4,450.3" stroke="#f04a2a"/>
<path d="M44.4,500.3 46.0,498.3 47.6,499.3 49.1,500.3 50.7,498.3 52.3,499.3 53.9,497.3 55.5,498.3 57.1,499.3 58.7,496.3 60.3,495.3 61.9,496.3 63.4,497.3 65.0,496.3 66.6,498.3 68.2,497.3 69.8,499.3 71.4,496.3 73.0,495.3 74.6,494.3 76.1,495.3 77.7,492.3 79.3,493.3 80.9,491.4 82.5,493.3 84.1,492.3 85.7,490.4 87.3,491.4 88.9,489.4 90.4,488.4 92.0,490.4 93.6,488.4 95.2,487.4 96.8,486.4 98.4,486.4 100.0,485.4 101.6,486.4 103.2,484.4 104.7,486.4 106.3,484.4 107.9,484.4 109.5,483.4 111.1,484.4 112.7,482.4 114.3,481.4 115.9,483.4 117.4,482.4 119.0,481.4 120.6,480.4 122.2,481.4 123.8,480.4 125.4,479.4 127.0,480.4 128.6,479.4 130.2,478.4 131.7,479.4 133.3,477.5 134.9,478.4 136.5,477.5 138.1,474.5 138.9,477.5 140.5,476.5 142.1,479.4 143.7,476.5 145.2,477.5 146.8,478.4 148.4,476.5 150.0,477.5 151.6,476.5 153.2,477.5 154.8,478.4 156.4,476.5 157.9,477.5 159.5,477.5 161.1,479.4 162.7,477.5 164.3,476.5 165.9,478.0 167.5,477.5 169.1,478.4 170.7,477.5 172.2,476.5 173.8,478.4 175.4,477.5 176.0,476.5 177.6,477.5 179.2,478.4 180.8,479.4 182.4,478.0 183.9,478.4 185.5,479.4 187.1,478.4 188.7,476.9 190.3,478.4 191.5,474.9 192.7,479.4 194.3,478.4 195.9,478.8 197.4,480.0 199.0,479.4 200.6,480.4 202.2,481.4 203.8,482.4 205.4,488.4 207.0,487.4 208.6,486.4 210.1,486.0 211.7,485.4 213.3,486.0 214.9,484.8 216.5,485.4 218.1,484.4 219.7,484.0 221.3,483.4 222.9,484.4 224.4,484.0 226.0,483.4 227.6,482.4 229.2,482.8 230.8,482.4 232.4,484.4 234.0,485.4 235.6,484.0 237.2,484.8 238.7,483.4 240.3,484.4 241.9,483.4 243.5,484.0 245.1,483.4 246.3,486.4 247.5,490.4 248.7,491.4 249.9,491.9 251.0,496.3 252.2,500.3 253.4,502.3 254.6,496.3 255.8,493.3 257.4,492.3 259.0,493.3 260.6,492.7 262.2,491.9 263.8,491.4 265.3,491.9 266.9,492.7 268.5,492.3 270.1,491.4 271.7,491.9 273.3,492.3 274.9,491.4 276.5,490.4 278.0,492.3 279.6,493.3 281.2,490.4 282.8,492.3 284.4,494.3 286.0,495.3 287.6,496.3 289.2,496.7 290.8,497.3 292.3,498.3 293.9,499.3 295.5,498.7 297.1,499.9 298.7,500.3 300.3,500.7 301.9,501.3 303.5,502.3 305.1,504.3 306.6,505.8 308.2,507.2 309.4,507.8" stroke="#cc1a22"/>
</g>
<rect x="44.5" y="305.0" width="265.5" height="203.5" fill="none" stroke="#a6a6a6" stroke-width="1"/>
<path d="M126.5 508.5v-3M126.5 305.0v3M209.5 508.5v-3M209.5 305.0v3M293.5 508.5v-3M293.5 305.0v3M44.5 474.5h3M310.0 474.5h-3M44.5 432.5h3M310.0 432.5h-3M44.5 390.5h3M310.0 390.5h-3M44.5 349.5h3M310.0 349.5h-3M44.5 307.5h3M310.0 307.5h-3" stroke="#8a8a8a" stroke-width="1" fill="none"/>
<text x="126.3" y="523.8" font-size="14.5" text-anchor="middle" fill="#000">50</text>
<text x="209.8" y="523.8" font-size="14.5" text-anchor="middle" fill="#000">100</text>
<text x="293.3" y="523.8" font-size="14.5" text-anchor="middle" fill="#000">150</text>
<text x="42.5" y="479.7" font-size="14.5" text-anchor="end" fill="#000">0.1</text>
<text x="42.5" y="437.9" font-size="14.5" text-anchor="end" fill="#000">0.2</text>
<text x="42.5" y="396.1" font-size="14.5" text-anchor="end" fill="#000">0.3</text>
<text x="42.5" y="354.3" font-size="14.5" text-anchor="end" fill="#000">0.4</text>
<text x="42.5" y="312.5" font-size="14.5" text-anchor="end" fill="#000">0.5</text>
<text x="176.8" y="537.9" font-size="14.5" text-anchor="middle" fill="#000">Band number</text>
<text transform="translate(16.0 406.8) rotate(-90)" font-size="14.5" text-anchor="middle" fill="#000">Spectral value</text>
<text x="163.2" y="563.5" font-size="20.5" text-anchor="middle" fill="#000" letter-spacing="2.6">(c)</text>
<defs><clipPath id="clipd"><rect x="386.5" y="305.0" width="266.0" height="203.5"/></clipPath></defs>
<path d="M468.5 305.0V508.5M552.5 305.0V508.5M635.5 305.0V508.5M386.5 475.5H652.5M386.5 434.5H652.5M386.5 394.5H652.5M386.5 353.5H652.5M386.5 313.5H652.5" stroke="#e2e2e2" stroke-width="1" stroke-dasharray="1 1.5" fill="none"/>
<g clip-path="url(#clipd)" fill="none" stroke-width="1.5" stroke-linejoin="round">
<path d="M386.8,481.4 388.4,480.4 390.0,480.8 391.5,479.4 393.1,480.0 394.7,478.4 396.3,477.5 397.9,478.4 399.5,476.9 401.1,476.1 402.7,476.5 404.3,475.5 405.8,474.9 407.4,474.1 409.0,474.5 410.6,473.5 412.2,472.5 413.8,472.9 415.4,471.5 417.0,470.5 418.5,469.5 420.1,468.9 421.7,468.5 423.3,467.5 424.9,468.1 426.5,466.5 428.1,466.1 429.7,464.9 431.3,464.5 432.8,463.6 434.4,462.2 436.0,461.6 437.6,460.6 439.2,459.6 440.8,459.0 442.4,457.6 444.0,456.6 445.5,455.0 447.1,454.2 448.7,453.6 450.3,452.6 451.9,451.6 453.5,451.0 455.1,450.3 456.7,449.1 458.3,446.7 459.8,449.7 461.4,448.3 463.0,447.7 464.6,447.1 466.2,446.3 467.8,445.7 469.4,444.7 471.0,444.3 472.5,443.7 474.1,442.7 475.7,441.7 477.3,440.3 478.9,439.1 480.5,439.7 482.1,438.7 483.7,439.1 485.3,439.7 486.8,438.7 488.4,440.3 490.0,439.7 491.6,440.7 493.2,440.3 494.8,439.7 496.4,439.7 498.0,440.7 499.6,440.3 501.1,441.7 502.7,440.7 504.3,440.3 505.9,439.1 507.5,440.7 509.1,440.3 510.7,439.7 512.3,439.1 513.8,440.7 515.4,439.7 517.0,438.7 516.0,439.3 517.6,438.3 519.2,438.9 520.8,437.7 522.4,439.3 524.1,443.3 525.7,440.3 527.3,438.9 528.9,437.7 530.5,438.3 532.1,436.2 533.7,436.8 535.3,438.3 537.0,438.9 538.6,438.3 540.2,439.3 541.8,439.7 543.4,440.3 545.0,439.7 546.6,441.3 547.8,443.3 549.4,442.3 551.1,441.7 552.7,440.9 554.3,440.3 555.9,441.3 557.5,442.3 559.1,440.3 560.7,440.9 562.3,439.7 563.9,440.3 565.6,439.7 567.2,439.3 568.8,440.3 570.4,438.3 572.0,436.8 573.6,438.3 575.2,440.9 576.8,439.3 578.5,438.9 580.1,439.7 581.7,438.9 583.3,439.3 584.9,438.9 586.5,438.3 587.7,438.9 588.9,444.3 590.1,449.3 591.3,448.3 592.6,450.3 593.8,452.4 595.0,457.4 596.2,453.4 597.4,449.3 598.6,447.3 600.2,446.3 601.8,447.3 603.4,445.3 605.0,444.3 606.7,446.3 608.3,443.3 609.9,442.3 611.5,443.3 613.1,442.9 614.7,442.3 616.3,444.3 617.9,445.3 619.6,446.3 621.2,447.3 622.8,448.3 624.4,449.3 626.0,451.4 627.6,452.4 629.2,453.4 630.8,452.4 632.4,450.3 634.1,449.3 635.7,448.3 636.9,447.3 638.5,449.3 640.1,451.4 641.7,452.4 643.3,453.0 644.9,453.4 646.5,453.8 648.2,455.0 649.8,455.8 651.8,456.4" stroke="#1a1a30"/>
<path d="M386.8,347.6 388.0,354.6 389.6,352.6 391.1,354.0 392.7,352.6 394.3,354.6 395.9,348.6 397.1,345.7 398.3,350.6 399.9,349.6 401.5,348.6 403.1,347.6 404.6,345.7 405.8,349.6 407.0,357.6 408.2,352.6 409.8,346.7 411.4,347.6 413.0,344.7 414.6,338.7 415.8,342.7 417.0,344.7 418.1,341.7 419.7,346.7 420.9,339.7 422.1,335.7 423.3,340.7 424.5,337.7 426.1,338.7 427.7,339.7 429.3,336.7 430.5,332.8 431.6,329.8 433.2,330.8 434.8,327.8 436.0,328.8 437.2,324.8 438.4,315.9 439.6,314.9 441.2,318.9 442.8,320.8 444.4,319.9 445.5,316.9 446.7,317.9 447.9,319.9 449.1,315.9 450.7,310.9 452.3,309.9 453.9,311.9 455.5,314.9 456.7,312.9 458.3,318.9 459.4,311.9 460.6,313.9 461.8,316.9 463.4,313.9 465.0,310.9 466.2,306.9 467.4,306.0 468.6,317.9 469.8,318.9 471.0,312.9 472.2,316.9 473.3,323.8 474.5,318.9 476.1,317.9 477.3,316.9 478.5,319.9 480.1,315.9 481.3,309.9 482.5,314.9 483.7,311.9 484.9,305.0 486.0,309.9 487.2,308.9 488.4,313.9 490.0,316.9 491.6,315.9 493.2,317.9 494.4,315.9 495.6,318.9 497.2,319.9 498.4,312.9 499.6,317.9 500.7,321.8 502.3,324.8 503.5,327.8 505.1,322.8 506.7,318.9 508.3,316.9 509.9,315.9 511.5,319.9 513.1,325.8 514.6,318.9 515.8,325.8 517.4,321.8 516.0,320.1 517.2,325.2 518.4,322.2 519.6,321.2 520.8,324.2 522.4,327.2 524.1,331.2 525.7,324.2 527.3,318.1 528.5,315.1 530.1,320.1 531.7,314.1 533.3,313.1 534.5,317.1 535.7,324.2 537.4,320.1 538.6,317.1 540.2,321.2 541.8,319.1 543.0,315.1 544.2,319.1 545.4,326.2 546.2,340.3 547.4,347.3 548.6,348.4 549.8,339.3 551.5,331.2 553.1,330.2 554.7,332.2 556.3,334.2 557.9,337.3 559.1,339.3 560.3,335.3 561.9,335.3 563.5,334.2 565.2,333.2 566.8,334.2 568.4,330.2 569.6,329.2 570.8,332.2 572.4,330.2 574.0,332.2 575.6,329.2 577.2,328.2 578.9,330.2 580.5,335.3 581.7,340.3 582.9,345.3 584.1,347.3 585.7,342.3 586.9,340.3 588.1,343.3 588.9,354.4 589.7,370.5 590.5,381.6 591.7,383.6 593.0,386.6 594.2,394.7 595.0,408.8 595.6,412.8 596.2,408.8 596.6,398.7 597.8,384.6 599.0,377.6 600.2,372.5 601.4,369.5 602.6,372.5 603.8,375.5 605.0,376.6 606.7,377.6 608.3,372.5 609.5,369.5 610.7,371.5 612.3,368.5 613.5,370.5 614.7,362.5 615.9,360.4 617.1,365.5 618.3,367.5 620.0,370.5 621.2,368.5 622.4,372.5 624.0,375.5 625.2,375.5 626.8,382.6 628.0,386.6 629.2,390.7 630.8,394.7 632.4,390.7 634.1,384.6 635.7,379.6 636.9,378.6 638.1,382.6 639.7,385.6 641.3,384.6 642.9,384.6 644.5,386.6 646.1,389.6 647.4,392.7 649.0,394.7 650.6,400.7 651.8,396.7 653.0,393.7" stroke="#7425e0"/>
<path d="M386.8,487.4 388.4,486.4 390.0,486.0 391.5,485.4 393.1,484.8 394.7,483.4 396.3,483.4 397.9,482.4 399.5,483.4 401.1,482.0 402.7,480.8 404.3,481.4 405.8,480.8 407.4,480.0 409.0,479.4 410.6,480.0 412.2,478.8 413.8,478.4 415.4,478.0 417.0,477.5 418.5,476.5 420.1,475.5 421.7,474.9 423.3,474.5 424.9,473.5 426.5,472.5 428.1,471.5 429.7,470.9 431.3,469.5 432.8,468.5 434.4,467.5 436.0,466.5 437.6,465.5 439.2,464.5 440.8,463.6 442.4,462.6 444.0,462.2 445.5,461.6 447.1,460.6 448.7,461.0 450.3,460.2 451.9,459.6 453.5,459.0 455.1,458.6 456.7,458.2 458.3,460.6 459.8,458.6 461.4,457.6 463.0,456.6 464.6,456.2 466.2,455.0 467.8,454.2 469.4,454.6 471.0,453.6 472.5,452.6 474.1,451.6 475.7,452.2 477.3,451.0 478.9,450.6 480.5,450.3 482.1,449.7 483.7,449.1 485.3,449.7 486.8,449.1 488.4,450.3 490.0,449.7 491.6,450.3 493.2,451.0 494.8,450.6 496.4,450.3 498.0,450.6 499.6,449.7 501.1,450.3 502.7,449.1 504.3,449.7 505.9,449.1 507.5,448.7 509.1,449.1 510.7,448.3 512.3,448.7 513.8,448.3 515.4,447.7 517.0,447.7 516.0,448.3 517.6,449.3 519.2,447.7 520.8,446.9 522.4,448.3 524.1,451.4 525.7,449.7 527.3,447.7 528.9,446.9 530.5,447.7 532.1,446.3 533.7,446.9 535.3,445.7 537.0,447.3 538.6,447.7 540.2,448.3 541.8,447.7 543.4,449.3 545.0,448.3 546.2,450.3 547.4,454.4 548.6,455.4 550.2,453.8 551.9,452.4 553.5,453.0 555.1,451.8 556.7,452.4 558.3,451.4 559.9,450.9 561.5,451.8 563.1,450.9 564.8,450.3 566.4,451.4 568.0,450.9 569.6,449.3 571.2,448.9 572.8,447.7 574.4,449.3 576.0,450.3 577.6,450.3 579.3,450.9 580.9,449.7 582.5,450.9 584.1,450.3 585.7,449.7 587.3,448.9 588.5,452.4 589.7,459.4 590.9,461.4 592.2,462.4 593.4,463.4 594.6,467.5 595.8,469.5 597.0,464.4 598.2,461.4 599.8,460.4 601.4,459.8 603.0,460.4 604.6,459.4 606.3,457.4 607.9,457.0 609.5,458.4 611.1,457.8 612.7,457.0 614.3,457.8 615.9,457.4 617.5,458.4 619.1,459.0 620.8,459.8 622.4,459.4 624.0,460.4 625.6,461.4 627.2,463.4 628.8,465.5 630.4,466.5 632.0,467.1 633.7,465.9 635.3,464.4 636.9,463.4 638.1,463.8 639.7,466.5 641.3,467.5 642.9,468.5 644.5,469.5 646.1,470.5 647.8,471.5 649.4,472.5 651.4,473.5" stroke="#2494ea"/>
<path d="M386.8,493.3 388.0,488.4 389.6,490.4 391.1,487.4 392.7,485.4 394.3,486.4 395.9,485.4 397.5,482.4 399.1,484.4 400.7,481.4 402.3,482.4 403.9,480.4 405.4,479.4 407.0,481.4 408.6,478.4 410.2,477.5 411.8,478.4 413.4,476.5 414.6,475.5 415.8,478.4 417.0,473.5 418.1,467.5 419.3,465.5 420.9,467.5 422.5,466.5 424.1,463.6 425.7,461.6 427.3,462.6 428.9,460.6 430.5,459.6 431.6,456.6 432.8,452.6 434.0,450.6 435.2,444.7 436.4,447.7 437.6,448.7 439.2,445.7 440.8,441.7 442.4,440.7 444.0,439.7 445.5,437.7 447.1,431.8 448.3,428.8 449.5,430.8 451.1,426.8 452.7,424.8 454.3,423.8 455.9,418.9 457.5,414.9 459.0,410.9 460.6,409.0 462.2,407.0 463.0,404.2 464.6,403.2 466.2,401.3 467.4,399.3 468.6,395.3 469.8,392.3 471.0,394.3 472.2,387.4 473.3,379.4 474.9,373.5 476.5,370.5 478.1,368.5 479.7,365.5 481.3,363.5 482.9,360.6 484.5,357.6 486.0,356.6 487.6,357.6 489.2,355.6 490.8,353.6 492.4,352.6 493.6,355.6 495.2,351.6 496.8,347.6 498.0,345.7 499.2,349.6 500.7,352.6 502.3,349.6 503.9,346.7 505.5,344.7 507.1,342.7 508.7,337.7 510.3,334.7 511.5,341.7 512.7,331.8 513.8,327.8 515.0,332.8 516.2,331.8 517.4,329.8 516.0,332.2 517.6,330.2 519.2,329.2 520.8,328.2 522.4,330.2 523.7,334.2 524.9,345.3 526.1,346.3 527.3,338.3 528.5,332.2 530.1,334.2 531.7,336.3 533.3,342.3 534.5,339.3 536.1,334.2 537.8,332.2 539.4,334.2 541.0,333.2 542.6,330.2 543.4,327.2 544.6,332.2 545.4,350.4 546.2,380.6 547.0,392.7 548.2,394.7 549.8,390.7 551.5,384.6 553.1,382.6 554.7,380.6 556.3,379.6 557.9,379.6 559.5,378.6 561.1,378.6 562.7,377.6 564.4,374.5 566.0,370.5 567.6,369.5 569.2,364.5 570.4,364.5 571.6,366.5 573.2,367.5 574.8,369.5 576.4,371.5 578.0,372.5 579.7,370.5 581.3,371.5 582.9,372.5 584.5,374.5 586.1,376.6 587.3,378.6 588.1,376.6 588.9,380.6 589.7,396.7 590.5,407.0 590.9,411.1 591.7,417.1 592.6,411.1 593.8,409.0 594.6,415.1 595.4,435.2 596.2,427.2 597.0,419.1 597.8,413.1 598.6,412.1 599.8,411.1 601.0,415.1 602.2,419.1 603.4,422.1 604.6,423.1 605.9,421.1 607.1,420.1 608.7,422.1 610.3,423.1 611.9,420.1 613.5,421.1 615.1,423.1 616.7,424.2 618.3,422.1 620.0,421.1 621.6,420.1 622.8,422.1 624.4,421.1 626.0,423.1 627.6,426.2 629.2,428.2 630.8,429.2 632.4,431.2 634.1,433.2 635.7,435.2 636.9,433.2 638.1,436.2 639.7,439.3 641.3,443.3 642.9,442.3 644.5,445.3 646.1,446.3 647.8,448.3 649.4,450.3 651.0,452.4" stroke="#2fe22f"/>
<path d="M386.8,506.2 388.0,503.3 389.6,505.2 391.1,502.3 392.7,504.3 394.3,501.3 395.9,502.3 397.5,500.3 399.1,501.3 400.7,499.3 402.3,502.3 403.9,500.3 405.4,501.3 407.0,498.3 408.6,499.3 410.2,496.3 411.8,497.3 413.4,495.3 415.0,496.3 416.2,492.3 417.4,494.3 418.9,491.4 420.5,492.3 422.1,493.3 423.7,490.4 425.3,491.4 426.9,488.4 428.5,487.4 430.1,489.4 431.6,486.4 433.2,485.4 434.8,484.4 436.4,483.4 438.0,482.4 439.6,481.4 441.2,482.0 442.8,480.4 444.4,479.4 445.9,477.5 447.5,474.5 449.1,476.5 450.7,471.5 452.3,470.5 453.9,468.5 455.5,466.5 457.1,469.5 458.7,464.5 460.2,462.6 461.8,464.5 463.4,460.6 465.0,462.6 466.6,460.6 468.2,458.6 469.8,456.6 471.4,457.6 472.9,455.6 474.5,451.6 475.7,448.7 476.9,451.6 478.1,449.7 479.3,450.6 480.1,438.7 481.3,440.7 482.9,438.7 484.5,439.7 486.0,437.7 487.6,436.8 489.2,434.8 490.8,433.8 492.4,434.8 494.0,432.8 495.6,434.8 497.2,430.8 498.8,429.8 500.3,430.8 501.9,427.8 503.5,424.8 505.1,420.9 506.7,423.8 508.3,422.9 509.9,421.9 511.5,424.8 513.1,421.9 514.6,420.9 516.2,422.9 517.8,423.8 516.0,421.1 517.6,423.1 519.2,422.1 520.8,424.2 522.4,423.1 524.1,421.1 525.7,422.1 527.3,421.1 528.9,420.1 530.5,422.1 531.7,429.2 532.9,417.1 534.1,416.1 535.3,419.1 537.0,418.1 538.6,417.1 540.2,415.1 541.8,414.1 543.4,415.5 545.0,418.1 546.2,427.2 547.0,436.2 548.2,433.2 549.8,432.2 551.5,431.2 553.1,430.2 554.7,429.2 556.3,428.2 557.9,427.2 559.5,426.2 561.1,424.8 562.7,425.2 564.4,426.2 566.0,423.1 567.6,422.1 569.2,421.1 570.8,420.1 572.4,419.1 573.6,416.1 574.8,417.5 576.4,419.1 578.0,418.1 579.7,421.1 581.3,425.2 582.9,426.2 584.5,425.2 586.1,424.2 587.7,421.1 588.9,427.2 590.1,435.2 591.3,439.3 592.6,438.3 593.8,441.3 595.0,447.3 596.2,438.3 597.8,432.2 599.4,435.2 601.0,433.2 602.6,436.2 604.2,435.2 605.9,438.3 607.5,440.3 609.1,437.2 610.7,436.2 612.3,435.2 613.9,434.8 615.5,434.2 617.1,435.2 618.7,434.8 620.4,434.2 622.0,435.6 623.6,435.2 625.2,436.2 626.8,437.2 628.0,443.3 629.2,445.3 630.8,444.3 632.4,442.3 634.1,440.3 635.7,439.3 637.3,442.3 638.9,444.3 640.5,446.3 642.1,447.3 643.7,446.3 645.3,448.3 646.9,449.3 648.6,451.4 650.2,453.4 651.8,455.8" stroke="#f04a2a"/>
<path d="M386.8,498.3 388.4,496.3 390.0,495.3 391.5,497.3 393.1,496.3 394.7,495.3 396.3,494.7 397.9,495.9 399.5,494.3 401.1,495.3 402.7,493.9 404.3,494.3 405.8,495.3 407.4,493.3 409.0,494.3 410.6,493.9 412.2,494.7 413.8,493.3 415.4,492.3 417.0,491.4 418.5,492.3 420.1,490.4 421.7,491.4 423.3,489.4 424.9,490.0 426.5,488.4 428.1,487.4 429.7,486.4 431.3,487.4 432.8,485.4 434.4,484.4 436.0,484.8 437.6,483.4 439.2,482.4 440.8,482.0 442.4,481.4 444.0,480.8 445.5,482.0 447.1,480.4 448.7,479.4 450.3,478.4 451.9,479.4 453.5,478.0 455.1,477.5 456.7,478.4 458.3,476.9 459.8,478.0 461.4,478.8 463.0,477.5 464.6,476.5 466.2,477.5 467.8,476.9 469.4,476.5 471.0,476.1 472.5,476.9 474.1,476.1 475.7,475.5 477.3,476.1 478.9,474.9 480.5,474.5 482.1,474.1 483.3,473.5 484.5,475.5 486.0,476.5 487.6,476.1 489.2,476.9 490.8,477.5 492.4,478.0 494.0,477.5 495.6,478.4 497.2,478.0 498.8,478.8 500.3,478.4 501.9,479.4 503.5,478.0 505.1,478.4 506.7,478.8 508.3,478.0 509.9,479.4 511.5,478.4 513.1,477.5 514.6,478.4 516.2,479.4 517.8,480.0 516.0,479.6 517.6,480.6 519.2,481.6 520.8,481.2 522.4,482.6 524.1,485.6 525.7,483.6 527.3,480.6 528.9,481.6 530.5,480.0 532.1,481.2 533.7,482.6 535.3,483.2 537.0,482.6 538.6,482.0 540.2,483.2 541.8,482.6 543.4,483.6 545.0,484.0 546.2,487.6 547.4,491.6 548.6,489.6 550.2,488.6 551.9,487.2 553.5,487.6 555.1,486.6 556.7,488.0 558.3,487.2 559.9,488.6 561.5,487.6 563.1,488.6 564.8,487.2 566.4,487.6 568.0,486.6 569.6,485.6 571.2,486.0 572.8,487.2 574.4,486.6 576.0,487.6 577.6,486.6 579.3,485.6 580.5,483.6 581.7,486.6 583.3,487.6 584.9,488.6 586.5,489.6 588.1,491.2 589.3,491.6 590.5,494.7 592.2,495.7 593.8,497.7 595.0,502.7 596.2,499.7 597.4,496.7 598.6,494.7 600.2,495.7 601.8,494.7 603.4,493.7 605.0,494.7 606.7,493.7 608.3,494.7 609.9,493.7 611.5,494.7 613.1,493.7 614.7,494.7 616.3,495.7 617.9,495.3 619.6,494.7 621.2,495.7 622.8,494.7 624.4,496.1 626.0,497.7 627.6,498.7 629.2,500.7 630.8,501.7 632.4,501.3 634.1,500.1 635.7,499.7 637.3,500.7 638.9,499.7 640.5,499.3 642.1,500.1 643.7,500.7 645.3,501.3 646.9,501.7 648.6,502.1 650.2,501.7 651.8,502.1" stroke="#cc1a22"/>
</g>
<rect x="386.5" y="305.0" width="266.0" height="203.5" fill="none" stroke="#a6a6a6" stroke-width="1"/>
<path d="M468.5 508.5v-3M468.5 305.0v3M552.5 508.5v-3M552.5 305.0v3M635.5 508.5v-3M635.5 305.0v3M386.5 475.5h3M652.5 475.5h-3M386.5 434.5h3M652.5 434.5h-3M386.5 394.5h3M652.5 394.5h-3M386.5 353.5h3M652.5 353.5h-3M386.5 313.5h3M652.5 313.5h-3" stroke="#8a8a8a" stroke-width="1" fill="none"/>
<text x="468.5" y="523.8" font-size="14.5" text-anchor="middle" fill="#000">50</text>
<text x="552.1" y="523.8" font-size="14.5" text-anchor="middle" fill="#000">100</text>
<text x="635.8" y="523.8" font-size="14.5" text-anchor="middle" fill="#000">150</text>
<text x="384.5" y="480.6" font-size="14.5" text-anchor="end" fill="#000">0.1</text>
<text x="384.5" y="440.1" font-size="14.5" text-anchor="end" fill="#000">0.2</text>
<text x="384.5" y="399.6" font-size="14.5" text-anchor="end" fill="#000">0.3</text>
<text x="384.5" y="359.1" font-size="14.5" text-anchor="end" fill="#000">0.4</text>
<text x="384.5" y="318.6" font-size="14.5" text-anchor="end" fill="#000">0.5</text>
<text x="519.0" y="537.9" font-size="14.5" text-anchor="middle" fill="#000">Band number</text>
<text transform="translate(357.9 406.8) rotate(-90)" font-size="14.5" text-anchor="middle" fill="#000">Spectral value</text>
<text x="512.2" y="563.5" font-size="20.5" text-anchor="middle" fill="#000" letter-spacing="2.6">(d)</text>
<line x1="204.0" y1="594.8" x2="229.0" y2="594.8" stroke="#20202e" stroke-width="1.6"/>
<text x="234.6" y="599.3" font-size="12" fill="#111">Target 1</text>
<line x1="204.0" y1="611.3" x2="229.0" y2="611.3" stroke="#8a58e0" stroke-width="1.6"/>
<text x="234.6" y="615.8" font-size="12" fill="#111">Target 2</text>
<line x1="303.3" y1="594.8" x2="328.3" y2="594.8" stroke="#4f94d4" stroke-width="1.6"/>
<text x="333.9" y="599.3" font-size="12" fill="#111">Target 3</text>
<line x1="303.3" y1="611.3" x2="328.3" y2="611.3" stroke="#62e262" stroke-width="1.6"/>
<text x="333.9" y="615.8" font-size="12" fill="#111">Target 4</text>
<line x1="402.0" y1="594.8" x2="427.0" y2="594.8" stroke="#dc5a44" stroke-width="1.6"/>
<text x="432.6" y="599.3" font-size="12" fill="#111">Target 5</text>
<line x1="402.0" y1="611.3" x2="427.0" y2="611.3" stroke="#d44a58" stroke-width="1.6"/>
<text x="432.6" y="615.8" font-size="12" fill="#111">Target 6</text>
</svg></body></html>
